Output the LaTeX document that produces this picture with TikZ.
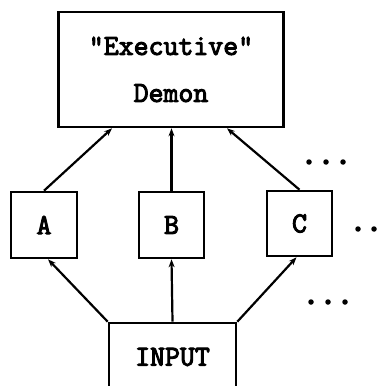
\documentclass[tikz,border=0pt]{standalone}
\usepackage{fontspec}
\newfontfamily\demonfont{Latin Modern Mono}[FakeBold=3.5]
\usetikzlibrary{arrows.meta}
\begin{document}
\begin{tikzpicture}[x=1pt,y=-1pt,
  label font/.style={font=\demonfont\fontsize{29}{29}\selectfont},
  box/.style={draw,line width=2.6pt,inner sep=0pt,label font},
  link/.style={line width=2.2pt,-{Stealth[length=8pt,width=6pt]}},
  dot/.style={circle,fill,inner sep=0pt,minimum size=5.5pt}]
  \useasboundingbox (0,0) rectangle (387,385);
  \clip (0,0) rectangle (387,385);
  % demon hierarchy
  \node[box,minimum width=225pt,minimum height=115pt,align=center]
    (exec) at (171,69.5) {"Executive"\\[18pt]Demon};
  \node[box,minimum width=66pt,minimum height=66pt] (a) at (44,225) {A};
  \node[box,minimum width=65pt,minimum height=66pt] (b) at (171.5,225) {B};
  \node[box,minimum width=65pt,minimum height=65pt] (c) at (299.5,223.5) {C};
  % input box runs off the lower edge
  \node[box,minimum width=127pt,minimum height=124pt] (in) at (172.5,385) {};
  \node[label font] (inlabel) at (172.5,357) {INPUT};
  % connectors
  \draw[link] (a.north) -- ([xshift=-59pt]exec.south);
  \draw[link] (b.north) -- (b.north |- exec.south);
  \draw[link] (c.north) -- ([xshift=56pt]exec.south);
  \draw[link] (in.north west) -- ([xshift=4pt]a.south);
  \draw[link] (in.north) -- (b.south);
  \draw[link] (in.north east) -- ([xshift=-3pt]c.south);
  % ellipses for further demons
  \foreach \x [count=\i] in {309,326,343} {
    \node[dot] (t\i) at (\x,162) {};
    \node[dot] (u\i) at (\x+2,302) {};
  }
  \node[dot] (m1) at (358,229) {};
  \node[dot] (m2) at (374,229) {};
\end{tikzpicture}
\end{document}
